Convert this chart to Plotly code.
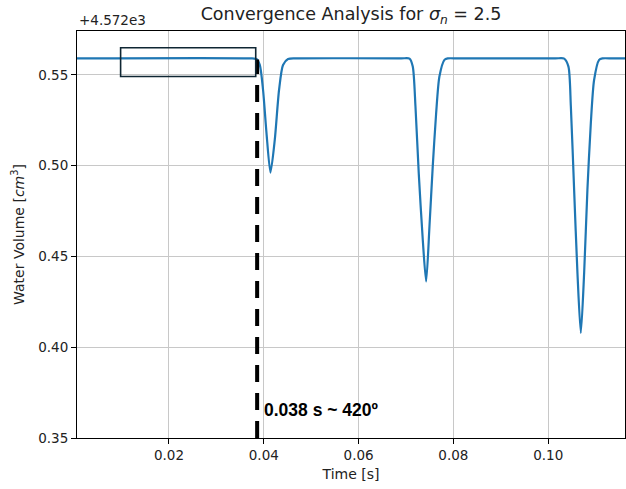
import plotly.graph_objects as go

# Data (volume shown relative to the +4.572e3 offset)
OFFSET_LABEL = "+4.572e3"
time_s = [0.0006, 0.0370, 0.03846, 0.03916, 0.03985, 0.04057, 0.04141, 0.04232, 0.04322, 0.04406, 0.04512, 0.0470,
          0.0690, 0.07074, 0.07143, 0.07200, 0.07269, 0.07354, 0.07425, 0.07495, 0.07564, 0.07636, 0.07705, 0.07811, 0.07880, 0.0810,
          0.1015, 0.10337, 0.10427, 0.10478, 0.10547, 0.10617, 0.10688, 0.10758, 0.10827, 0.10899, 0.10968, 0.11074, 0.11143, 0.1135, 0.1162]
volume = [0.5591, 0.5591, 0.5588, 0.5555, 0.5417, 0.5181, 0.4962, 0.5142, 0.5417, 0.5555, 0.5588, 0.5591,
          0.5591, 0.5590, 0.5546, 0.5326, 0.4959, 0.4592, 0.4362, 0.4665, 0.4995, 0.5289, 0.5491, 0.5583, 0.5591, 0.5591,
          0.5591, 0.5590, 0.5546, 0.5326, 0.4867, 0.4409, 0.4078, 0.4409, 0.4867, 0.5234, 0.5472, 0.5583, 0.5591, 0.5591, 0.5591]

x_ticks = [0.02, 0.04, 0.06, 0.08, 0.10]
x_tick_labels = ["0.02", "0.04", "0.06", "0.08", "0.10"]
y_ticks = [0.35, 0.40, 0.45, 0.50, 0.55]
y_tick_labels = ["0.35", "0.40", "0.45", "0.50", "0.55"]

marker_time = 0.0386
marker_label = "0.038 s ~ 420º"
box_x = [0.0098, 0.0383]
box_y = [0.5491, 0.5650]

x_range = [0.0006, 0.1162]
y_range = [0.35, 0.5742]

FONT = "DejaVu Sans"

fig = go.Figure()
fig.add_trace(go.Scatter(
    x=time_s, y=volume, mode="lines",
    line=dict(color="#1f77b4", width=2.2, shape="spline", smoothing=0.7),
    showlegend=False, hoverinfo="skip"))

# dashed vertical marker line
fig.add_trace(go.Scatter(
    x=[marker_time, marker_time], y=[y_range[0], 0.5585], mode="lines",
    line=dict(color="black", width=4, dash="17px,11px"),
    showlegend=False, hoverinfo="skip"))

fig.add_shape(type="rect", x0=box_x[0], x1=box_x[1], y0=box_y[0], y1=box_y[1],
              xref="x", yref="y", line=dict(color="#0f2633", width=1.6), fillcolor="rgba(0,0,0,0)")

fig.add_annotation(x=0.0397, y=0.3655, xref="x", yref="y", text="<b>" + marker_label + "</b>",
                   showarrow=False, xanchor="left", yanchor="middle",
                   font=dict(family="Liberation Sans", size=17.5, color="black"))

fig.add_annotation(x=0, y=1.0, xref="paper", yref="paper", text=OFFSET_LABEL,
                   showarrow=False, xanchor="left", yanchor="bottom", yshift=1,
                   font=dict(family=FONT, size=13.5, color="#222"))

axis_common = dict(showline=True, linecolor="black", linewidth=1, mirror=True,
                   ticks="outside", ticklen=5, tickcolor="black", tickwidth=1,
                   showgrid=True, gridcolor="#c8c8c8", gridwidth=1, zeroline=False,
                   tickfont=dict(family=FONT, size=13.5, color="#222"))

fig.update_xaxes(range=x_range, tickvals=x_ticks, ticktext=x_tick_labels,
                 title=dict(text="Time [s]", font=dict(family=FONT, size=14, color="#222"), standoff=6),
                 **axis_common)
fig.update_yaxes(range=y_range, tickvals=y_ticks, ticktext=y_tick_labels,
                 title=dict(text="Water Volume [<i>cm</i><sup>3</sup>]", font=dict(family=FONT, size=14, color="#222"), standoff=10),
                 **axis_common)

fig.update_layout(
    width=626, height=489,
    margin=dict(l=77, r=1, t=31, b=51),
    paper_bgcolor="white", plot_bgcolor="white",
    title=dict(text="Convergence Analysis for <i>σ<sub>n</sub></i> = 2.5",
               x=0.5, xanchor="center", xref="paper", y=1 - 14/489, yanchor="middle",
               font=dict(family=FONT, size=17.5, color="#222")),
)

fig.write_html("out.html")
